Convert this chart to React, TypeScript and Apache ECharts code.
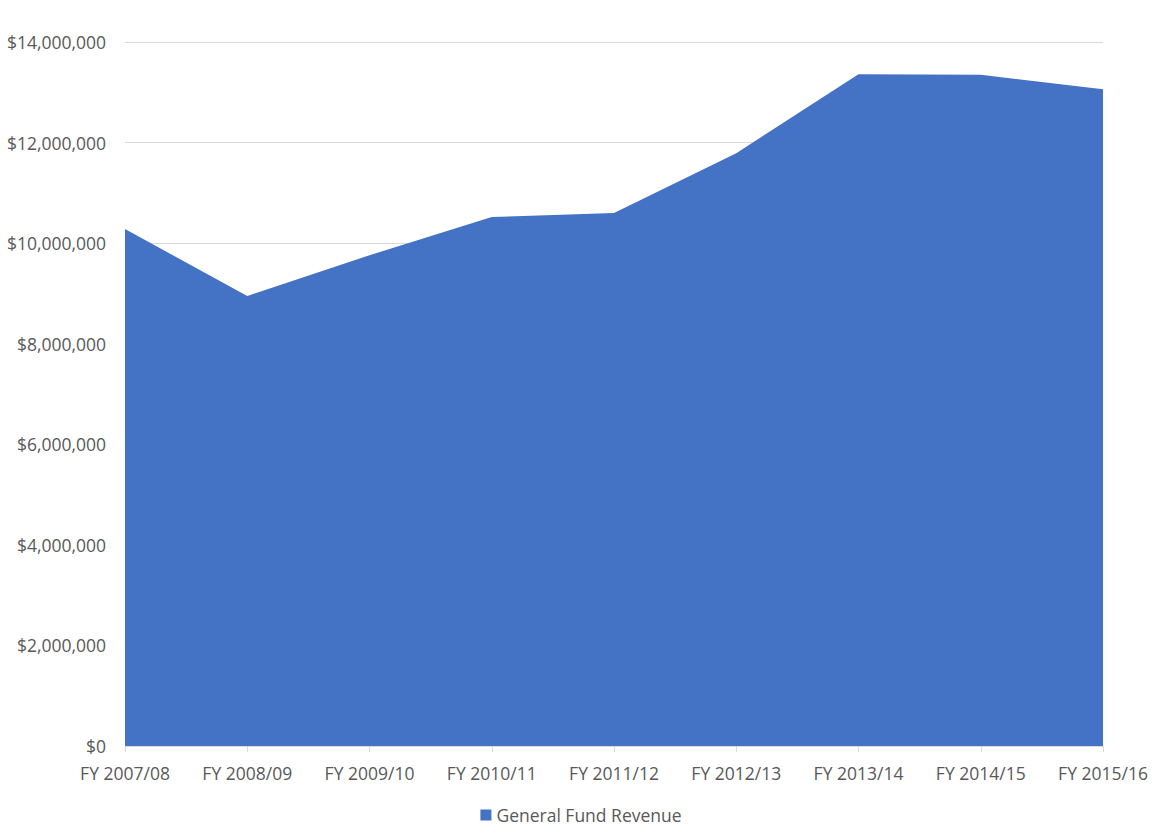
import { useEffect, useRef } from 'react';
import * as echarts from 'echarts';

const categories = [
  'FY 2007/08',
  'FY 2008/09',
  'FY 2009/10',
  'FY 2010/11',
  'FY 2011/12',
  'FY 2012/13',
  'FY 2013/14',
  'FY 2014/15',
  'FY 2015/16',
];

const revenue = [
  10280000, 8950000, 9760000, 10520000, 10600000, 11790000, 13360000, 13350000, 13060000,
];

const seriesName = 'General Fund Revenue';

const formatMoney = (value: number) => '$' + value.toLocaleString('en-US');

export default function App() {
  const chartRef = useRef<HTMLDivElement | null>(null);

  useEffect(() => {
    const element = chartRef.current;
    if (!element) {
      return;
    }

    const chart = echarts.init(element, null, { renderer: 'svg' });
    chart.setOption({
      animation: false,
      textStyle: { fontFamily: 'Open Sans' },
      grid: { left: 125, right: 59, top: 42, bottom: 90 },
      legend: {
        bottom: 7,
        left: 'center',
        itemWidth: 11,
        itemHeight: 11,
        itemGap: 4,
        icon: 'rect',
        textStyle: { color: '#595959', fontSize: 17.5, fontFamily: 'Open Sans' },
        data: [seriesName],
      },
      xAxis: {
        type: 'category',
        data: categories,
        boundaryGap: false,
        axisLine: { lineStyle: { color: '#d9d9d9' } },
        axisTick: { show: true, length: 6, lineStyle: { color: '#d9d9d9' } },
        axisLabel: { color: '#595959', fontSize: 17.5, margin: 18 },
      },
      yAxis: {
        type: 'value',
        min: 0,
        max: 14000000,
        interval: 2000000,
        axisLine: { show: false },
        axisTick: { show: false },
        splitLine: { lineStyle: { color: '#d9d9d9' } },
        axisLabel: {
          color: '#595959',
          fontSize: 17.5,
          margin: 19,
          formatter: formatMoney,
        },
      },
      series: [
        {
          name: seriesName,
          type: 'line',
          data: revenue,
          symbol: 'none',
          lineStyle: { width: 0 },
          itemStyle: { color: '#4472c4' },
          areaStyle: { color: '#4472c4', opacity: 1 },
        },
      ],
    });

    return () => {
      chart.dispose();
    };
  }, []);

  return (
    <div
      ref={chartRef}
      style={{ position: 'absolute', left: 0, top: 0, width: 1162, height: 836 }}
    />
  );
}
